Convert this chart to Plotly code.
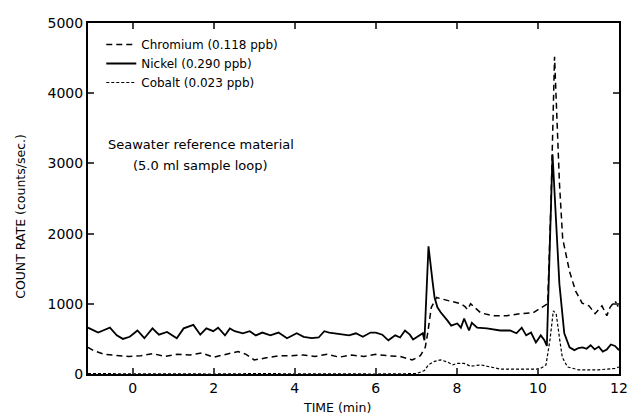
import plotly.graph_objects as go

# Nickel (solid)
ni_t = [-1.1, -0.85, -0.73, -0.56, -0.39, -0.24, -0.07, 0.12, 0.29, 0.49, 0.65, 0.85, 1.09, 1.26, 1.5,
        1.67, 1.82, 1.99, 2.11, 2.28, 2.4, 2.52, 2.72, 2.89, 3.04, 3.2, 3.4, 3.6, 3.81, 4.05, 4.22, 4.42,
        4.59, 4.73, 4.85, 4.98, 5.19, 5.34, 5.51, 5.68, 5.87, 6.0, 6.16, 6.31, 6.48, 6.6, 6.72, 6.84,
        6.92, 7.04, 7.16, 7.2, 7.3, 7.4, 7.45, 7.52, 7.6, 7.77, 7.86, 8.01, 8.1, 8.18, 8.3, 8.37, 8.5,
        8.74, 9.07, 9.31, 9.47, 9.6, 9.71, 9.83, 9.95, 10.07, 10.16, 10.22, 10.36, 10.53, 10.65, 10.78,
        10.9, 11.0, 11.1, 11.2, 11.3, 11.4, 11.5, 11.6, 11.7, 11.8, 11.9, 12.0]
ni_v = [660, 590, 620, 660, 550, 500, 530, 620, 510, 650, 560, 600, 510, 650, 700,
        560, 650, 610, 660, 550, 650, 610, 580, 610, 550, 590, 550, 590, 510, 580, 530, 510,
        520, 610, 590, 580, 560, 550, 580, 530, 590, 590, 560, 480, 550, 520, 620, 560,
        490, 530, 580, 480, 1820, 1320, 1090, 950, 880, 760, 690, 720, 660, 790, 620, 730, 660,
        650, 620, 620, 580, 660, 550, 590, 450, 550, 480, 400, 3130, 1280, 580, 380,
        340, 370, 380, 360, 410, 350, 390, 320, 350, 420, 400, 340]

# Chromium (dashed)
cr_t = [-1.1, -0.95, -0.7, -0.4, -0.1, 0.2, 0.5, 0.8, 1.1, 1.4, 1.7, 2.0, 2.3, 2.6, 2.8, 3.0, 3.3,
        3.6, 3.9, 4.2, 4.5, 4.8, 5.1, 5.4, 5.7, 6.0, 6.3, 6.6, 6.9, 7.1, 7.22, 7.28, 7.37, 7.5, 7.62,
        7.86, 8.1, 8.2, 8.26, 8.34, 8.59, 8.9, 9.23, 9.56, 9.88, 10.04, 10.16, 10.24, 10.32, 10.41,
        10.53, 10.61, 10.78, 10.93, 11.09, 11.26, 11.41, 11.58, 11.7, 11.78, 11.9, 12.0]
cr_v = [380, 330, 280, 270, 250, 260, 290, 250, 280, 270, 300, 240, 280, 320, 280, 200, 230,
        260, 260, 270, 250, 280, 240, 270, 250, 280, 260, 250, 200, 260, 380, 580, 950, 1090, 1070,
        1040, 1000, 960, 920, 1000, 870, 830, 830, 860, 870, 930, 970, 1000, 2400, 4520,
        2730, 1930, 1460, 1180, 1010, 970, 860, 970, 830, 950, 1040, 940]

# Cobalt (dotted)
co_t = [-1.1, 0, 1, 2, 3, 4, 5, 6, 7.0, 7.2, 7.3, 7.45, 7.6, 7.77, 7.9, 8.0, 8.18, 8.34, 8.59,
        8.83, 9.07, 9.56, 10.04, 10.2, 10.3, 10.38, 10.45, 10.53, 10.6, 10.73, 11.0, 11.5, 11.9, 12.0]
co_v = [5, 0, 5, 0, 5, 0, 5, 0, 5, 50, 130, 180, 200, 170, 130, 150, 150, 110, 130,
        100, 70, 70, 70, 130, 500, 900, 860, 520, 240, 100, 60, 60, 80, 100]

x_ticks = [0, 2, 4, 6, 8, 10, 12]
y_ticks = [0, 1000, 2000, 3000, 4000, 5000]

font = "DejaVu Sans, sans-serif"

fig = go.Figure()
fig.add_trace(go.Scatter(x=cr_t, y=cr_v, mode="lines", name="Chromium (0.118 ppb)",
                         line=dict(color="black", width=1.5, dash="6px,4px")))
fig.add_trace(go.Scatter(x=ni_t, y=ni_v, mode="lines", name="Nickel (0.290 ppb)",
                         line=dict(color="black", width=1.8)))
fig.add_trace(go.Scatter(x=co_t, y=co_v, mode="lines", name="Cobalt (0.023 ppb)",
                         line=dict(color="black", width=1.2, dash="3px,2px")))

# The page body has an 8px margin, so the figure is sized/offset to compensate.
fig.update_layout(
    width=627, height=409,
    margin=dict(l=80, r=7, t=11, b=43),
    paper_bgcolor="white", plot_bgcolor="white",
    font=dict(family=font, color="black", size=13),
    legend=dict(x=0.025, y=0.98, xanchor="left", yanchor="top", bgcolor="rgba(0,0,0,0)",
                font=dict(size=12), itemwidth=30, tracegroupgap=0),
    showlegend=True,
)
fig.update_xaxes(range=[-1.1, 12], tickvals=x_ticks, ticks="inside", ticklen=6, tickwidth=1.5,
                 showline=True, linecolor="black", linewidth=2, mirror="ticks", showgrid=False,
                 zeroline=False, tickfont=dict(size=14))
fig.update_yaxes(range=[0, 5000], tickvals=y_ticks, ticks="inside", ticklen=6, tickwidth=1.5,
                 showline=True, linecolor="black", linewidth=2, mirror="ticks", showgrid=False,
                 zeroline=False, tickfont=dict(size=14))

# Axis titles
fig.add_annotation(x=0.4685, y=-0.095, xref="paper", yref="paper", text="TIME (min)",
                   showarrow=False, font=dict(size=12.5), xanchor="center", yanchor="middle")
fig.add_annotation(x=-0.126, y=0.448, xref="paper", yref="paper", text="COUNT RATE (counts/sec.)",
                   showarrow=False, font=dict(size=12.5), textangle=-90,
                   xanchor="center", yanchor="middle")

fig.add_annotation(x=0.212, y=0.654, xref="paper", yref="paper", text="Seawater reference material",
                   showarrow=False, font=dict(size=13), xanchor="center", yanchor="middle")
fig.add_annotation(x=0.212, y=0.594, xref="paper", yref="paper", text="(5.0 ml sample loop)",
                   showarrow=False, font=dict(size=13), xanchor="center", yanchor="middle")

fig.write_html("out.html")
